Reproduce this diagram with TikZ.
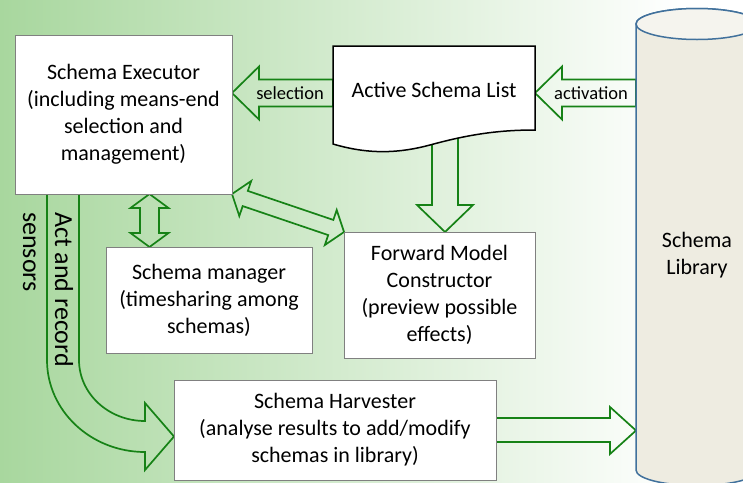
\documentclass[tikz,border=0pt]{standalone}
\usepackage{fontspec}
\setmainfont{Carlito}
\usetikzlibrary{calc}
\definecolor{bgL}{RGB}{168,215,158}
\definecolor{arr}{RGB}{22,130,22}
\definecolor{cylF}{RGB}{238,236,225}
\definecolor{cylT}{RGB}{245,244,238}
\definecolor{cylB}{RGB}{65,113,156}
\definecolor{boxB}{RGB}{128,128,128}
\begin{document}
\begin{tikzpicture}[x=1pt,y=1pt,
  box/.style={draw=boxB, line width=1pt, fill=white, align=center, font=\fontsize{22}{27}\selectfont, inner sep=0pt},
  blk/.style={draw=arr, line width=1.7pt, line join=miter},
  lbl/.style={font=\fontsize{18.5}{22}\selectfont, inner sep=0pt},
  big/.style={font=\fontsize{22}{27}\selectfont, inner sep=0pt, align=center},
  rot/.style={rotate=-90, anchor=base west, inner sep=0pt, font=\fontsize{26}{32}\selectfont}]
\useasboundingbox (0,0) rectangle (743,-482);
\clip (0,0) rectangle (743,-482);
\shade[left color=bgL, right color=white] (0,0) rectangle (680,-482);
\fill[white] (680,0) rectangle (743,-482);

% named anchors
\coordinate (docW) at (333,-93);
\coordinate (docE) at (535,-93);
\coordinate (docS) at (445,-130);
\coordinate (libW) at (636,-93);
\coordinate (libW2) at (636,-430.5);

% block arrows
\draw[blk] (232,-93) -- (259,-66.5) -- (259,-79.5) -- (docW |- 0,-79.5) -- (docW |- 0,-106.5) -- (259,-106.5) -- (259,-119.5) -- cycle;
\draw[blk] (docE) -- (562,-66.5) -- (562,-79.5) -- (libW |- 0,-79.5) -- (libW |- 0,-106.5) -- (562,-106.5) -- (562,-119.5) -- cycle;
\draw[blk] (432,-130) -- (432,-205) -- (417,-205) -- (445,-232) -- (473,-205) -- (458,-205) -- (458,-130) -- cycle;
\draw[blk] (496,-418) -- (610,-418) -- (610,-407) -- (libW2) -- (610,-454) -- (610,-442) -- (496,-442) -- cycle;
\draw[blk] (149.5,-194) -- (168.5,-208) -- (159,-208) -- (159,-233) -- (168.5,-233) -- (149.5,-247) -- (130.5,-233) -- (140,-233) -- (140,-208) -- (130.5,-208) -- cycle;
\begin{scope}[shift={(232,-194)}, rotate=-18.74]
\draw[blk] (0,0) -- (14,18.5) -- (14,8) -- (104.3,8) -- (104.3,18.5) -- (118.3,0) -- (104.3,-18.5) -- (104.3,-8) -- (14,-8) -- (14,-18.5) -- cycle;
\end{scope}
\draw[blk] (47,-194) -- (79,-194) -- (79,-360) arc[start angle=180, end angle=270, x radius=66, y radius=61]
  -- (145,-403) -- (174,-436.5) -- (145,-470) -- (145,-452) arc[start angle=270, end angle=180, x radius=98, y radius=92] -- cycle;

% boxes
\node[box, minimum width=217pt, minimum height=159pt] (exec) at (123.5,-114.5) {Schema Executor\\(including means-end\\selection and\\management)};
\node[box, minimum width=206pt, minimum height=106pt] (mgr) at (209,-300) {Schema manager\\(timesharing among\\schemas)};
\node[box, minimum width=191pt, minimum height=126pt] (fm) at (439.5,-295) {Forward Model\\Constructor\\(preview possible\\effects)};
\node[box, minimum width=322pt, minimum height=100pt] (harv) at (335,-430) {Schema Harvester\\(analyse results to add/modify\\schemas in library)};

% document shape
\draw[fill=white, line width=1.5pt, line join=miter] (333,-46) -- (535,-46) -- (535,-130)
  .. controls (500,-130) and (470,-134) .. (430,-145)
  .. controls (400,-153) and (370,-155) .. (333,-144) -- cycle;
\node[big] (doc) at (434,-90) {Active Schema List};

% cylinder
\draw[fill=cylF, draw=cylB, line width=1.5pt] (636,-24) -- (636,-470)
  arc[start angle=180, end angle=360, x radius=61, y radius=15.5] -- (758,-24)
  arc[start angle=0, end angle=180, x radius=61, y radius=15.5] -- cycle;
\draw[fill=cylT, draw=cylB, line width=1.5pt] (697,-24) ellipse[x radius=61, y radius=15.5];
\node[big] (lib) at (697,-255) {Schema\\Library};

% labels
\node[lbl] (sel) at (290,-93) {selection};
\node[lbl] (actv) at (591,-93) {activation};
\node[rot] (act) at (55,-212) {Act and record};
\node[rot] (sens) at (23,-212) {sensors};
\end{tikzpicture}
\end{document}
